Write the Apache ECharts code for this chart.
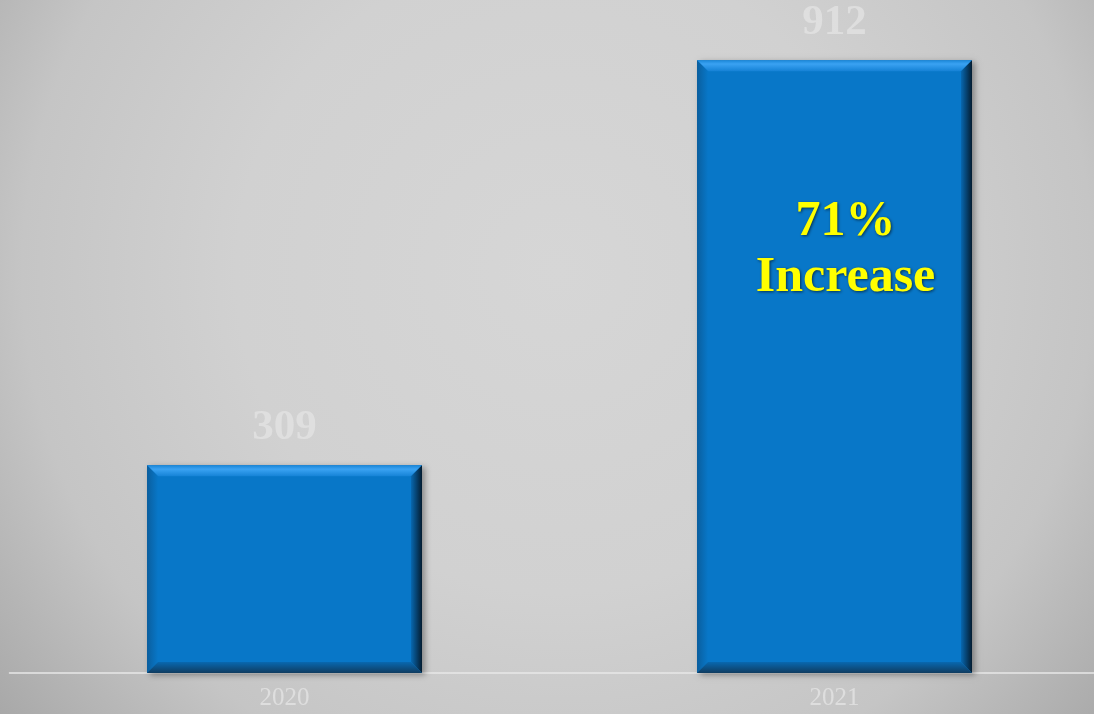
<!DOCTYPE html>
<html>
<head>
<meta charset="utf-8">
<script src="https://cdn.jsdelivr.net/npm/echarts@6/dist/echarts.min.js"></script>
<style>
html,body{margin:0;padding:0;width:100%;height:100%;overflow:hidden;}
#chart{width:1094px;height:714px;}
</style>
</head>
<body>
<div id="chart"></div>
<script>
const categories = ['2020', '2021'];
const values = [309, 912];
const annotationLines = ['71%', 'Increase'];
const annotationPoint = ['2021', 629];

const chart = echarts.init(document.getElementById('chart'));
const serif = '"Liberation Serif", "DejaVu Serif", serif';

function renderBar(params, api) {
  const idx = api.value(0);
  const v = api.value(1);
  const base = api.coord([idx, 0]);
  const top = api.coord([idx, v]);
  const bw = api.size([1, 0])[0] * 0.5;
  const l = base[0] - bw / 2, r = base[0] + bw / 2, t = top[1], b = base[1];
  const e = 11;
  return {
    type: 'group',
    children: [
      { type: 'rect', shape: { x: l, y: t, width: r - l, height: b - t },
        style: { fill: '#0877c8', shadowBlur: 6, shadowOffsetX: 3, shadowOffsetY: 2, shadowColor: 'rgba(0,0,0,0.35)' } },
      { type: 'polygon', shape: { points: [[l, t], [r, t], [r - e, t + e], [l + e, t + e]] },
        style: { fill: new echarts.graphic.LinearGradient(0, 0, 0, 1, [
          { offset: 0, color: '#1a86d8' }, { offset: 0.35, color: '#3aa2f2' }, { offset: 1, color: '#1582d6' }]) } },
      { type: 'polygon', shape: { points: [[l, t], [l + e, t + e], [l + e, b - e], [l, b]] },
        style: { fill: new echarts.graphic.LinearGradient(0, 0, 1, 0, [
          { offset: 0, color: '#0a5e9e' }, { offset: 1, color: '#0877c8' }]) } },
      { type: 'polygon', shape: { points: [[r, t], [r, b], [r - e, b - e], [r - e, t + e]] },
        style: { fill: new echarts.graphic.LinearGradient(0, 0, 1, 0, [
          { offset: 0, color: '#0868b0' }, { offset: 1, color: '#041c30' }]) } },
      { type: 'polygon', shape: { points: [[l, b], [r, b], [r - e, b - e], [l + e, b - e]] },
        style: { fill: new echarts.graphic.LinearGradient(0, 0, 0, 1, [
          { offset: 0, color: '#0868b0' }, { offset: 1, color: '#103c60' }]) } },
      { type: 'text', x: base[0], y: t - 16,
        style: { text: String(v), fill: 'rgba(226,226,226,0.8)', font: 'bold 43px ' + serif,
          align: 'center', verticalAlign: 'bottom' } }
    ]
  };
}

chart.setOption({
  backgroundColor: new echarts.graphic.RadialGradient(0.51, 0.38, 1.0, [
    { offset: 0, color: '#d6d6d6' }, { offset: 0.45, color: '#d1d1d1' },
    { offset: 0.75, color: '#c5c5c5' }, { offset: 1, color: '#a8a8a8' }]),
  animation: false,
  grid: { left: 9.5, width: 1100, top: 1, bottom: 41, outerBoundsMode: 'none', containLabel: false },
  xAxis: {
    type: 'category', data: categories,
    axisLine: { lineStyle: { color: '#e8e8e8', width: 1.5 } },
    axisTick: { show: false },
    axisLabel: { color: 'rgba(226,226,226,0.85)', fontFamily: serif, fontSize: 25, margin: 13 }
  },
  yAxis: { type: 'value', min: 0, max: 1000, show: false, splitLine: { show: false } },
  series: [
    { type: 'custom', renderItem: renderBar, data: categories.map((c, i) => [i, values[i]]), z: 2 },
    { type: 'scatter', symbolSize: 0, z: 5, data: [annotationPoint],
      itemStyle: { opacity: 1 },
      label: { show: true, position: 'inside', offset: [11, 0],
        formatter: () => annotationLines.join('\n'),
        color: '#ffff00', fontFamily: serif, fontWeight: 'bold', fontSize: 50, lineHeight: 56,
        textShadowColor: 'rgba(0,0,0,0.6)', textShadowBlur: 3, textShadowOffsetX: 1, textShadowOffsetY: 1 } }
  ]
});
</script>
</body>
</html>
